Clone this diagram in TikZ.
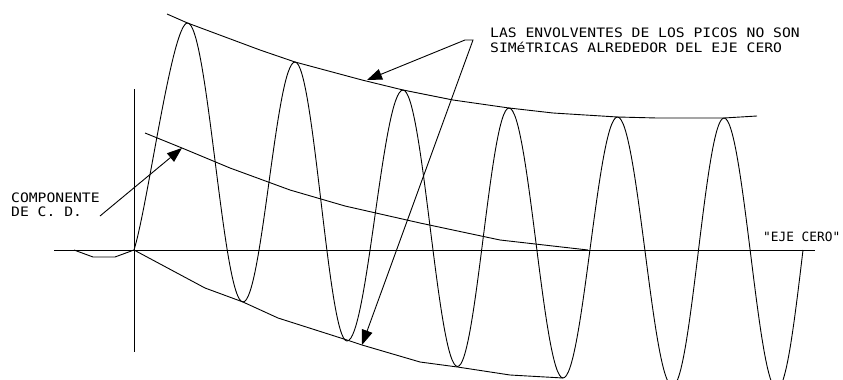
\documentclass[tikz,border=0pt]{standalone}
\usepackage{fontspec}
\newfontfamily\cadfont{DejaVu Sans Mono}[FakeStretch=1.13]
\newfontfamily\cadnarrow{DejaVu Sans Mono}
\usetikzlibrary{arrows.meta}
\begin{document}
\begin{tikzpicture}[x=1pt,y=-1pt,
  curve/.style={line width=0.9pt, line join=round},
  leader/.style={line width=0.9pt, -{Triangle[length=15pt,width=11pt]}},
  leaderboth/.style={line width=0.9pt, {Triangle[length=15pt,width=11pt]}-{Triangle[length=15pt,width=11pt]}},
  lbl/.style={inner sep=0pt, anchor=base west, font=\cadfont\fontsize{13}{13}\selectfont},
  lbln/.style={inner sep=0pt, anchor=base west, font=\cadnarrow\fontsize{12.8}{12.8}\selectfont}]
\useasboundingbox (0,0) rectangle (843,380);
\clip (0,0) rectangle (843,380);
% axes
\coordinate (O) at (134,250);
\coordinate (xl) at (54,250);
\coordinate (xr) at (815,250);
\coordinate (yt) at (134,89);
\coordinate (yb) at (134,352);
\draw[curve] (xl) -- (xr);
\draw[curve] (yt) -- (yb);
% small pre-start piece
\coordinate (s0) at (74,250);
\coordinate (s1) at (93,257);
\coordinate (s2) at (115,257);
\draw[curve] (s0) -- (s1) -- (s2) -- (O);
% waveform
\draw[curve] (O) .. controls (148,205) and (172,23) .. (187.5,23)
  cos (215.25,162.5) sin (243,302)
  cos (269,182) sin (295,62)
  cos (321,201.5) sin (347,341)
  cos (375,215.5) sin (403,90)
  cos (430.25,228.25) sin (457.5,366.5)
  cos (483.25,237.25) sin (509,108)
  cos (536,243) sin (563,378)
  cos (590.25,247.5) sin (617.5,117)
  cos (645,251) sin (672.5,386)
  cos (698.25,252) sin (724,118)
  cos (750.5,253) sin (777,389)
  cos (803,250);
% upper envelope
\draw[curve] (167,14) -- (187.5,23) -- (260,50) -- (295,62) -- (362,80) -- (403,90)
  -- (453,100) -- (509,108) -- (553,113) -- (617.5,117) -- (657,118) -- (724,118) -- (757,116);
% DC component line
\draw[curve] (145,133) -- (182,148) -- (230,168) -- (290,190) -- (345,206) -- (420,223) -- (500,240) -- (588,250);
% lower envelope
\draw[curve] (O) -- (205,288) -- (243,302) -- (278,318) -- (347,340) -- (362,345)
  -- (420,362) -- (457.5,367) -- (510,375) -- (563,378);
% arrows
\coordinate (dcs) at (100,216);
\coordinate (dct) at (182,148);
\draw[leader] (dcs) -- (dct);
\coordinate (tu) at (367,80);
\coordinate (k1) at (465,40);
\coordinate (k2) at (473,40);
\coordinate (tl) at (362,345);
\draw[leaderboth] (tu) -- (k1) -- (k2) -- (tl);
% labels
\node[lbl] (t1) at (490,37.5) {LAS ENVOLVENTES DE LOS PICOS NO SON};
\node[lbl] (t2) at (490,52) {SIMéTRICAS ALREDEDOR DEL EJE CERO};
\node[lbl] (c1) at (11,202) {COMPONENTE};
\node[lbl] (c2) at (11,216) {DE C. D.};
\node[lbln] (ej) at (763,241) {"EJE CERO"};
\end{tikzpicture}
\end{document}
